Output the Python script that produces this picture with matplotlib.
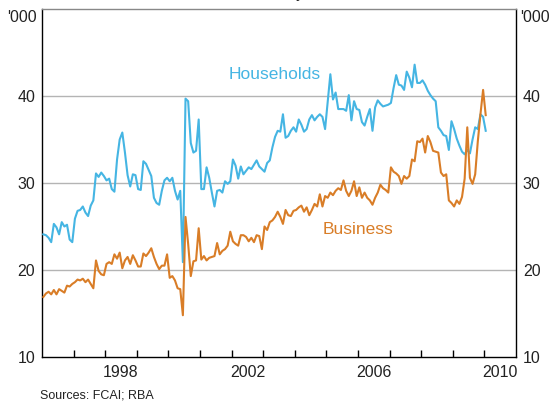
import numpy as np
import matplotlib
matplotlib.use("Agg")
import matplotlib.pyplot as plt
from matplotlib.ticker import FixedLocator, NullFormatter

plt.rcParams['font.family'] = ['Liberation Sans', 'DejaVu Sans']

start_year = 1996
households = [
    24.1, 24.0, 23.7, 23.2, 25.3, 24.9, 24.1, 25.5, 25.0, 25.2, 23.5, 23.2,
    25.9, 26.8, 26.9, 27.3, 26.6, 26.2, 27.4, 28.0, 31.1, 30.7, 31.2, 30.8,
    30.3, 30.5, 29.3, 29.0, 32.7, 35.0, 35.8, 33.5, 30.9, 29.6, 31.0, 30.9,
    29.3, 29.2, 32.5, 32.2, 31.5, 30.8, 28.3, 27.7, 27.5, 29.1, 30.3, 30.6,
    30.2, 30.6, 29.1, 28.1, 29.1, 20.9, 39.7, 39.4, 34.6, 33.5, 33.7, 37.3,
    29.3, 29.3, 31.8, 30.6, 28.9, 27.3, 29.1, 29.2, 28.9, 30.2, 29.9, 30.2,
    32.7, 32.0, 30.5, 31.9, 31.0, 31.4, 31.8, 31.6, 32.1, 32.6, 31.9, 31.6,
    31.3, 32.3, 32.6, 34.1, 35.3, 36.0, 35.9, 37.9, 35.2, 35.4, 36.0, 36.4,
    35.9, 37.3, 36.7, 35.9, 36.2, 37.3, 37.8, 37.2, 37.6, 37.9, 37.6, 36.2,
    39.4, 42.5, 39.6, 40.4, 38.5, 38.5, 38.5, 38.3, 40.1, 37.2, 39.4, 38.5,
    38.4, 37.0, 36.6, 37.6, 38.5, 36.0, 38.7, 39.5, 39.1, 38.8, 38.9, 39.0,
    39.2, 40.9, 42.4, 41.3, 41.2, 40.7, 42.8, 42.1, 41.0, 43.6, 41.5, 41.5,
    41.8, 41.3, 40.6, 40.1, 39.7, 39.4, 36.4, 36.0, 35.5, 35.4, 33.8, 37.1,
    36.2, 35.1, 34.3, 33.6, 33.3, 33.8, 33.4, 35.0, 36.4, 36.2, 37.9, 37.6,
    36.0,
]
business = [
    16.9, 17.3, 17.5, 17.2, 17.7, 17.2, 17.8, 17.6, 17.4, 18.2, 18.1, 18.4,
    18.6, 18.9, 18.8, 19.0, 18.6, 18.9, 18.4, 17.9, 21.1, 19.9, 19.5, 19.4,
    20.7, 20.9, 20.7, 21.8, 21.3, 22.0, 20.2, 21.1, 21.5, 20.7, 21.7, 21.1,
    20.4, 20.4, 21.9, 21.6, 22.0, 22.5, 21.5, 20.7, 20.1, 20.5, 20.5, 21.8,
    19.1, 19.3, 18.8, 17.9, 17.8, 14.8, 26.1, 23.0, 19.3, 21.0, 21.1, 24.8,
    21.2, 21.6, 21.1, 21.4, 21.5, 21.6, 23.1, 21.8, 22.2, 22.4, 22.8, 24.4,
    23.3, 23.0, 22.8, 24.0, 24.0, 23.8, 23.3, 23.7, 23.2, 24.0, 23.9, 22.4,
    25.0, 24.6, 25.5, 25.7, 26.1, 26.7, 26.1, 25.3, 26.9, 26.3, 26.2, 26.8,
    26.9, 27.2, 27.4, 26.7, 27.2, 26.3, 26.9, 27.6, 27.3, 28.7, 27.3, 28.5,
    28.3, 28.9, 28.6, 29.1, 29.4, 29.2, 30.3, 29.1, 28.5, 29.1, 30.2, 28.5,
    29.5, 28.3, 28.9, 28.3, 28.0, 27.5, 28.3, 28.9, 29.8, 29.4, 29.2, 28.9,
    31.8, 31.3, 31.1, 30.8, 29.9, 30.8, 30.5, 30.8, 32.7, 32.5, 34.8, 34.7,
    35.1, 33.5, 35.4, 34.7, 33.7, 33.6, 33.5, 31.2, 30.8, 31.0, 28.0, 27.7,
    27.3, 28.0, 27.6, 28.4, 30.5, 36.4, 30.6, 29.9, 31.0, 34.8, 37.9, 40.7,
    37.8,
]
year_labels = ['1998', '2002', '2006', '2010']
y_ticks = [10, 20, 30, 40]

blue = '#45b5e3'
orange = '#d97d27'

x_h = start_year + (np.arange(len(households)) + 0.5) / 12
x_b = start_year + (np.arange(len(business)) + 0.5) / 12

fig = plt.figure(figsize=(5.54, 4.04), dpi=100)
ax = fig.add_axes([42/554, 1 - 357/404, 474/554, 348/404])

for y in y_ticks[1:]:
    ax.axhline(y, color='#b4b4b4', lw=1.0, zorder=1)

ax.plot(x_h, households, color=blue, lw=1.5, zorder=3)
ax.plot(x_b, business, color=orange, lw=1.5, zorder=3)

ax.set_xlim(1996, 2011)
ax.set_ylim(10, 50)

ax.xaxis.set_major_locator(FixedLocator([int(l) + 0.5 for l in year_labels]))
ax.set_xticklabels(year_labels)
ax.xaxis.set_minor_locator(FixedLocator(list(range(1997, 2011))))
ax.xaxis.set_minor_formatter(NullFormatter())
ax.tick_params(axis='x', which='major', length=0, pad=6, labelsize=11.5, colors='#222222')
ax.tick_params(axis='x', which='minor', length=5, width=1, direction='in', color='black')

ax.set_yticks(y_ticks)
ax.set_yticklabels([str(v) for v in y_ticks])
ax.tick_params(axis='y', length=0, pad=5, labelsize=11.5, labelleft=True, labelright=True, colors='#222222')

for s in ['left', 'right', 'bottom']:
    ax.spines[s].set_color('black')
    ax.spines[s].set_linewidth(1.0)
ax.spines['top'].set_color('#888888')
ax.spines['top'].set_linewidth(1.0)

ax.text(2003.36, 42.5, 'Households', color=blue, fontsize=12.5, ha='center', va='center')
ax.text(2006.0, 24.7, 'Business', color=orange, fontsize=12.5, ha='center', va='center')

fig.text(37/554, 1 - 17/404, "'000", fontsize=11.5, ha='right', va='center', color='#222222')
fig.text(520/554, 1 - 17/404, "'000", fontsize=11.5, ha='left', va='center', color='#222222')
fig.text(277/554, 1 + 2/404, 'Monthly', fontsize=11.5, ha='center', va='baseline', color='#222222')
fig.text(40/554, 1 - 396/404, 'Sources: FCAI; RBA', fontsize=9, ha='left', va='center', color='#222222')

fig.savefig('out.png', dpi=100)
